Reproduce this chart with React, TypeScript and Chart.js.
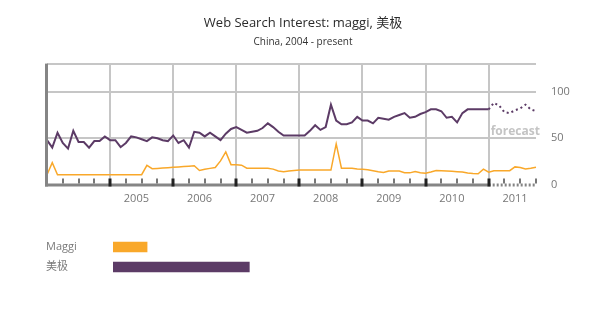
import React, { useEffect, useRef } from "react";
import { Chart, registerables } from "chart.js";

Chart.register(...registerables);

// ---------- data ----------
const startYear = 2004;
const monthCount = 94; // Jan 2004 .. Oct 2011
const categories: string[] = Array.from(
  { length: monthCount },
  (_, i) => `${startYear + Math.floor(i / 12)}-${String((i % 12) + 1).padStart(2, "0")}`
);
const forecastStart = 84; // Jan 2011
const yearLabels = ["2005", "2006", "2007", "2008", "2009", "2010", "2011"];
const yTicks = [0, 50, 100];
const yMax = 130;

const maggi: number[] = [
  11, 24, 11, 11, 11, 11, 11, 11, 11, 11, 11, 11,
  11, 11, 11, 11, 11, 11, 11, 21, 17.5, 17.8, 18.2, 18.6,
  19, 19.4, 19.8, 20.2, 20.6, 15.5, 16.9, 17.8, 18.8, 25.8, 35.5, 21.8,
  21.8, 21.2, 18, 18, 18, 18, 18, 17, 15, 14.3, 15, 15.5,
  16, 16, 16, 16, 16, 16, 16, 44, 18, 18, 18, 17.2,
  16.8, 16.3, 15.2, 14.1, 13.3, 15, 15, 15, 13.2, 13, 14.5, 13.2,
  12.6, 14, 15.6, 15.3, 15, 14.7, 14.2, 13.8, 12.8, 12.3, 12, 16.9,
  13.7, 15.3, 15.3, 15.3, 15.3, 19.4, 18.8, 17.2, 18, 19,
];

const meiji: number[] = [
  48, 40, 56, 45, 39, 58, 46, 46, 40, 47, 47, 52,
  48, 48, 40.5, 45, 52, 51, 49, 47, 51, 50, 48, 47,
  53, 45, 48, 40, 57, 56, 52, 56, 52, 48, 55, 60,
  62, 59, 56, 57, 58, 61, 66, 62, 57, 53, 53, 53,
  53, 53, 58, 64, 59, 62, 86, 69, 65, 65, 67, 73,
  69, 69, 66, 72, 71, 70, 73, 75, 77, 72, 73, 76,
  78, 81, 81, 79, 72, 73, 67, 77, 81, 81, 81, 81,
  81, 88, 85, 78, 77, 80, 82, 86, 81, 79,
];

const legendLabels = ["Maggi", "美极"];
const legendAverages = [16, 64];

const ORANGE = "#F9A82A";
const PURPLE = "#5C3B66";
const FONT = "'Open Sans', 'Noto Sans CJK SC', sans-serif";

const decorPlugin = {
  id: "decor",
  afterDraw(chart: any) {
    const { ctx, chartArea: a, scales } = chart;
    const x = scales.x;
    const y = scales.y;
    const xF = x.getPixelForValue(forecastStart);
    const yb = y.getPixelForValue(0);
    ctx.save();
    // left axis
    ctx.strokeStyle = "#858585";
    ctx.lineWidth = 3;
    ctx.beginPath();
    ctx.moveTo(a.left - 0.5, a.top);
    ctx.lineTo(a.left - 0.5, yb + 1.5);
    ctx.stroke();
    // bottom axis solid part
    ctx.beginPath();
    ctx.moveTo(a.left - 2, yb);
    ctx.lineTo(xF, yb);
    ctx.stroke();
    // forecast dotted part
    ctx.setLineDash([2, 2]);
    ctx.beginPath();
    ctx.moveTo(xF, yb);
    ctx.lineTo(a.right, yb);
    ctx.stroke();
    ctx.setLineDash([]);
    // tick marks
    for (let i = 3; i < monthCount; i += 3) {
      const px = x.getPixelForValue(i);
      if (i % 12 === 0) {
        ctx.fillStyle = "#222";
        ctx.fillRect(Math.round(px) - 1.5, yb - 6.5, 3, 8);
      } else {
        ctx.fillStyle = "#777";
        ctx.fillRect(Math.round(px) - 1, yb - 6.5, 2, 5);
      }
    }
    // forecast label
    ctx.fillStyle = "#c4c4c4";
    ctx.font = `bold 12px ${FONT}`;
    ctx.textAlign = "left";
    ctx.textBaseline = "middle";
    ctx.fillText("forecast", xF + 2, y.getPixelForValue(57));
    ctx.restore();
  },
};

export default function App() {
  const mainRef = useRef<HTMLCanvasElement>(null);
  const legRef = useRef<HTMLCanvasElement>(null);

  useEffect(() => {
    const main = new Chart(mainRef.current as HTMLCanvasElement, {
      type: "line",
      data: {
        labels: categories,
        datasets: [
          {
            label: "美极",
            data: meiji,
            xAxisID: "x",
            yAxisID: "y",
            borderColor: PURPLE,
            borderWidth: 2,
            pointRadius: 0,
            tension: 0,
            fill: false,
            segment: {
              borderDash: (c: any) => (c.p0DataIndex >= forecastStart ? [2, 3] : undefined),
            },
          } as any,
          {
            label: "Maggi",
            data: maggi,
            xAxisID: "x",
            yAxisID: "y",
            borderColor: ORANGE,
            borderWidth: 1.5,
            pointRadius: 0,
            tension: 0,
            fill: false,
          },
        ],
      },
      options: {
        animation: false,
        responsive: false,
        devicePixelRatio: 1,
        layout: { padding: { left: 0, right: 0, top: 0, bottom: 113 } },
        plugins: {
          legend: { display: false },
          tooltip: { enabled: false },
          title: {
            display: true,
            text: "Web Search Interest: maggi, 美极",
            color: "#2b2b2b",
            font: { size: 13, family: FONT, weight: "normal" as any },
            padding: { top: 15, bottom: 5 },
          },
          subtitle: {
            display: true,
            text: "China, 2004 - present",
            color: "#333",
            font: { size: 10, family: FONT },
            padding: { top: 1, bottom: 15 },
          },
        },
        scales: {
          x: {
            type: "category",
            border: { display: false },
            grid: {
              color: (c: any) =>
                c.index > 0 && c.index % 12 === 0 && c.index < monthCount - 1 ? "#c6c6c6" : "rgba(0,0,0,0)",
              lineWidth: 2,
              drawTicks: false,
            },
            ticks: {
              autoSkip: false,
              maxRotation: 0,
              minRotation: 0,
              padding: 7,
              color: "#777",
              font: { size: 11, family: FONT },
              callback: (_v: any, i: number) =>
                i >= 12 && i % 12 === 5 ? yearLabels[Math.floor(i / 12) - 1] : "",
            },
            afterFit: (s: any) => {
              s.height = 21;
            },
          },
          y: {
            position: "right",
            min: 0,
            max: yMax,
            border: { display: false },
            afterBuildTicks: (s: any) => {
              s.ticks = [...yTicks, yMax].map((v) => ({ value: v }));
            },
            afterFit: (s: any) => {
              s.width = 70;
            },
            grid: {
              color: (c: any) => (c.tick && c.tick.value > 0 ? "#c6c6c6" : "rgba(0,0,0,0)"),
              lineWidth: 2,
              drawTicks: false,
            },
            ticks: {
              padding: 15,
              crossAlign: "near",
              color: "#777",
              font: { size: 11, family: FONT },
              callback: (v: any) => (yTicks.includes(v) ? String(v) : ""),
            },
          },
          yl: {
            position: "left",
            display: true,
            min: 0,
            max: 1,
            border: { display: false },
            grid: { display: false, drawTicks: false },
            ticks: { display: false },
            afterFit: (s: any) => {
              s.width = 47;
            },
          },
        },
      },
      plugins: [decorPlugin],
    } as any);

    const leg = new Chart(legRef.current as HTMLCanvasElement, {
      type: "bar",
      data: {
        labels: legendLabels,
        datasets: [
          {
            data: legendAverages,
            backgroundColor: [ORANGE, PURPLE],
            borderWidth: 0,
            barThickness: 10,
          },
        ],
      },
      options: {
        indexAxis: "y",
        animation: false,
        responsive: false,
        devicePixelRatio: 1,
        layout: { padding: { left: 46, right: 280, top: 10, bottom: 10 } },
        plugins: { legend: { display: false }, tooltip: { enabled: false } },
        scales: {
          x: { display: false, min: 0, max: 100 },
          y: {
            border: { display: false },
            grid: { display: false, drawTicks: false },
            ticks: {
              crossAlign: "far",
              padding: 0,
              color: "#7a7a7a",
              font: { size: 11, family: FONT },
            },
            afterFit: (s: any) => {
              s.width = 67;
            },
          },
        },
      },
    } as any);

    return () => {
      main.destroy();
      leg.destroy();
    };
  }, []);

  return (
    <div style={{ position: "fixed", left: 0, top: 0, width: 606, height: 319, background: "#fff" }}>
      <canvas ref={mainRef} width={606} height={319} style={{ position: "absolute", left: 0, top: 0 }} />
      <canvas ref={legRef} width={606} height={60} style={{ position: "absolute", left: 0, top: 227 }} />
    </div>
  );
}
